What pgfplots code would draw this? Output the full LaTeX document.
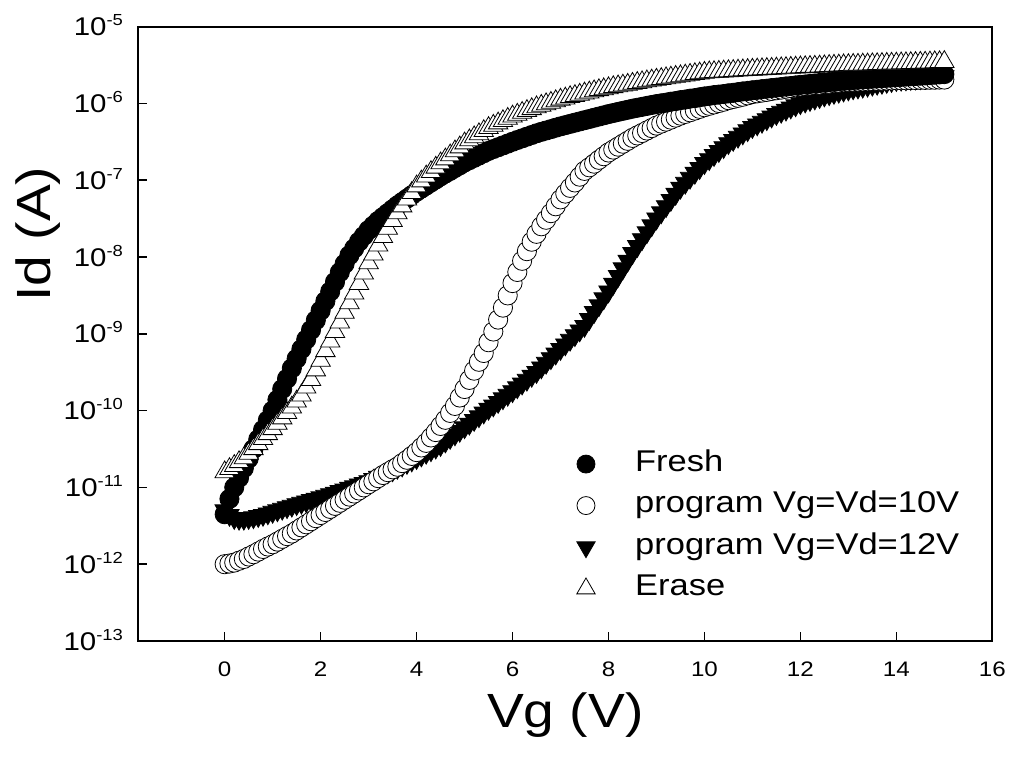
\documentclass[border=0pt]{standalone}
\usepackage{fontspec}
\setmainfont{Liberation Sans}[FakeStretch=1.15]
\usepackage{pgfplots}
\usepackage{pgfplotstable}
\pgfplotsset{compat=1.18}

% Id-Vg transfer curves: Vg (V), then Id (A) for each device state
\pgfplotstableread{
Vg   Fresh    Prog10   Prog12   Erase
0.0  4.47e-12 1.00e-12 5.01e-12 1.58e-11
0.1  7.08e-12 1.02e-12 4.37e-12 1.74e-11
0.2  1.00e-11 1.05e-12 3.98e-12 1.91e-11
0.3  1.33e-11 1.11e-12 3.89e-12 2.14e-11
0.4  1.78e-11 1.17e-12 3.89e-12 2.40e-11
0.5  2.37e-11 1.26e-12 3.98e-12 2.75e-11
0.6  3.16e-11 1.35e-12 4.07e-12 3.16e-11
0.7  4.22e-11 1.46e-12 4.22e-12 3.67e-11
0.8  5.62e-11 1.58e-12 4.37e-12 4.27e-11
0.9  7.50e-11 1.70e-12 4.57e-12 4.95e-11
1.0  1.00e-10 1.82e-12 4.79e-12 5.75e-11
1.1  1.38e-10 1.97e-12 5.01e-12 6.76e-11
1.2  1.91e-10 2.14e-12 5.25e-12 7.94e-11
1.3  2.60e-10 2.32e-12 5.50e-12 9.33e-11
1.4  3.55e-10 2.51e-12 5.75e-12 1.10e-10
1.5  4.73e-10 2.75e-12 6.03e-12 1.32e-10
1.6  6.31e-10 3.02e-12 6.28e-12 1.58e-10
1.7  8.41e-10 3.31e-12 6.55e-12 2.00e-10
1.8  1.12e-9  3.63e-12 6.82e-12 2.51e-10
1.9  1.50e-9  3.98e-12 7.11e-12 3.35e-10
2.0  2.00e-9  4.37e-12 7.41e-12 4.47e-10
2.1  2.66e-9  4.79e-12 7.76e-12 5.96e-10
2.2  3.55e-9  5.25e-12 8.13e-12 7.94e-10
2.3  4.73e-9  5.75e-12 8.51e-12 1.06e-9
2.4  6.31e-9  6.31e-12 8.91e-12 1.41e-9
2.5  8.13e-9  6.92e-12 9.33e-12 1.88e-9
2.6  1.05e-8  7.59e-12 9.82e-12 2.51e-9
2.7  1.29e-8  8.32e-12 1.03e-11 3.35e-9
2.8  1.58e-8  9.12e-12 1.09e-11 4.47e-9
2.9  1.88e-8  1.00e-11 1.14e-11 6.10e-9
3.0  2.24e-8  1.10e-11 1.20e-11 8.32e-9
3.1  2.57e-8  1.20e-11 1.28e-11 1.08e-8
3.2  2.95e-8  1.32e-11 1.37e-11 1.41e-8
3.3  3.31e-8  1.45e-11 1.46e-11 1.82e-8
3.4  3.72e-8  1.58e-11 1.56e-11 2.34e-8
3.5  4.17e-8  1.72e-11 1.66e-11 2.95e-8
3.6  4.68e-8  1.86e-11 1.79e-11 3.72e-8
3.7  5.19e-8  2.07e-11 1.92e-11 4.57e-8
3.8  5.75e-8  2.29e-11 2.07e-11 5.62e-8
3.9  6.38e-8  2.57e-11 2.23e-11 6.84e-8
4.0  7.08e-8  2.88e-11 2.40e-11 8.32e-8
4.1  7.76e-8  3.31e-11 2.59e-11 9.66e-8
4.2  8.51e-8  3.80e-11 2.81e-11 1.12e-7
4.3  9.33e-8  4.47e-11 3.03e-11 1.28e-7
4.4  1.02e-7  5.25e-11 3.28e-11 1.46e-7
4.5  1.12e-7  6.31e-11 3.55e-11 1.66e-7
4.6  1.22e-7  7.59e-11 3.94e-11 1.87e-7
4.7  1.32e-7  9.33e-11 4.39e-11 2.11e-7
4.8  1.44e-7  1.15e-10 4.88e-11 2.38e-7
4.9  1.56e-7  1.48e-10 5.42e-11 2.68e-7
5.0  1.70e-7  1.91e-10 6.03e-11 3.02e-7
5.1  1.82e-7  2.51e-10 6.73e-11 3.31e-7
5.2  1.95e-7  3.31e-10 7.52e-11 3.63e-7
5.3  2.09e-7  4.32e-10 8.39e-11 3.98e-7
5.4  2.24e-7  5.62e-10 9.38e-11 4.37e-7
5.5  2.40e-7  7.76e-10 1.05e-10 4.79e-7
5.6  2.54e-7  1.07e-9  1.16e-10 5.13e-7
5.7  2.68e-7  1.53e-9  1.29e-10 5.50e-7
5.8  2.83e-7  2.19e-9  1.44e-10 5.89e-7
5.9  2.99e-7  3.16e-9  1.60e-10 6.31e-7
6.0  3.16e-7  4.57e-9  1.78e-10 6.76e-7
6.1  3.33e-7  6.38e-9  2.00e-10 7.14e-7
6.2  3.50e-7  8.91e-9  2.24e-10 7.55e-7
6.3  3.68e-7  1.19e-8  2.51e-10 7.98e-7
6.4  3.87e-7  1.58e-8  2.82e-10 8.43e-7
6.5  4.07e-7  2.00e-8  3.16e-10 8.91e-7
6.6  4.25e-7  2.51e-8  3.63e-10 9.33e-7
6.7  4.43e-7  3.05e-8  4.17e-10 9.77e-7
6.8  4.61e-7  3.72e-8  4.79e-10 1.02e-6
6.9  4.81e-7  4.57e-8  5.50e-10 1.07e-6
7.0  5.01e-7  5.62e-8  6.31e-10 1.12e-6
7.1  5.20e-7  6.68e-8  7.24e-10 1.16e-6
7.2  5.40e-7  7.94e-8  8.32e-10 1.21e-6
7.3  5.60e-7  9.33e-8  9.55e-10 1.25e-6
7.4  5.81e-7  1.11e-7  1.10e-9  1.30e-6
7.5  6.03e-7  1.32e-7  1.26e-9  1.35e-6
7.6  6.25e-7  1.47e-7  1.55e-9  1.39e-6
7.7  6.49e-7  1.64e-7  1.91e-9  1.44e-6
7.8  6.73e-7  1.84e-7  2.34e-9  1.49e-6
7.9  6.98e-7  2.05e-7  2.88e-9  1.53e-6
8.0  7.24e-7  2.29e-7  3.55e-9  1.58e-6
8.1  7.48e-7  2.50e-7  4.47e-9  1.63e-6
8.2  7.73e-7  2.73e-7  5.62e-9  1.67e-6
8.3  7.98e-7  2.98e-7  7.08e-9  1.71e-6
8.4  8.24e-7  3.25e-7  8.91e-9  1.75e-6
8.5  8.51e-7  3.55e-7  1.12e-8  1.80e-6
8.6  8.75e-7  3.82e-7  1.38e-8  1.85e-6
8.7  8.99e-7  4.11e-7  1.70e-8  1.89e-6
8.8  9.25e-7  4.43e-7  2.09e-8  1.94e-6
8.9  9.51e-7  4.76e-7  2.57e-8  1.99e-6
9.0  9.77e-7  5.13e-7  3.16e-8  2.04e-6
9.1  1.00e-6  5.45e-7  3.80e-8  2.08e-6
9.2  1.02e-6  5.78e-7  4.57e-8  2.13e-6
9.3  1.05e-6  6.14e-7  5.50e-8  2.17e-6
9.4  1.07e-6  6.52e-7  6.61e-8  2.22e-6
9.5  1.10e-6  6.92e-7  7.94e-8  2.26e-6
9.6  1.12e-6  7.28e-7  9.20e-8  2.31e-6
9.7  1.15e-6  7.66e-7  1.07e-7  2.36e-6
9.8  1.17e-6  8.05e-7  1.24e-7  2.41e-6
9.9  1.20e-6  8.47e-7  1.43e-7  2.46e-6
10.0 1.23e-6  8.91e-7  1.66e-7  2.51e-6
10.1 1.25e-6  9.29e-7  1.87e-7  2.54e-6
10.2 1.28e-6  9.68e-7  2.11e-7  2.56e-6
10.3 1.30e-6  1.01e-6  2.38e-7  2.58e-6
10.4 1.32e-6  1.05e-6  2.68e-7  2.61e-6
10.5 1.35e-6  1.10e-6  3.02e-7  2.63e-6
10.6 1.37e-6  1.14e-6  3.33e-7  2.65e-6
10.7 1.40e-6  1.18e-6  3.66e-7  2.68e-6
10.8 1.43e-6  1.22e-6  4.04e-7  2.70e-6
10.9 1.45e-6  1.27e-6  4.45e-7  2.73e-6
11.0 1.48e-6  1.32e-6  4.90e-7  2.75e-6
11.1 1.50e-6  1.35e-6  5.30e-7  2.77e-6
11.2 1.53e-6  1.38e-6  5.73e-7  2.79e-6
11.3 1.55e-6  1.41e-6  6.19e-7  2.81e-6
11.4 1.58e-6  1.45e-6  6.70e-7  2.83e-6
11.5 1.60e-6  1.48e-6  7.24e-7  2.85e-6
11.6 1.63e-6  1.51e-6  7.73e-7  2.87e-6
11.7 1.66e-6  1.55e-6  8.24e-7  2.89e-6
11.8 1.68e-6  1.58e-6  8.79e-7  2.91e-6
11.9 1.71e-6  1.62e-6  9.38e-7  2.93e-6
12.0 1.74e-6  1.66e-6  1.00e-6  2.95e-6
12.1 1.76e-6  1.68e-6  1.05e-6  2.97e-6
12.2 1.79e-6  1.71e-6  1.10e-6  2.99e-6
12.3 1.81e-6  1.73e-6  1.15e-6  3.01e-6
12.4 1.84e-6  1.75e-6  1.20e-6  3.03e-6
12.5 1.86e-6  1.78e-6  1.26e-6  3.05e-6
12.6 1.89e-6  1.80e-6  1.31e-6  3.08e-6
12.7 1.91e-6  1.83e-6  1.36e-6  3.10e-6
12.8 1.94e-6  1.85e-6  1.41e-6  3.12e-6
12.9 1.97e-6  1.88e-6  1.46e-6  3.14e-6
13.0 2.00e-6  1.91e-6  1.51e-6  3.16e-6
13.1 2.01e-6  1.91e-6  1.56e-6  3.18e-6
13.2 2.03e-6  1.92e-6  1.60e-6  3.19e-6
13.3 2.05e-6  1.93e-6  1.64e-6  3.21e-6
13.4 2.07e-6  1.94e-6  1.69e-6  3.22e-6
13.5 2.09e-6  1.95e-6  1.74e-6  3.24e-6
13.6 2.11e-6  1.96e-6  1.79e-6  3.25e-6
13.7 2.13e-6  1.97e-6  1.84e-6  3.27e-6
13.8 2.15e-6  1.98e-6  1.89e-6  3.28e-6
13.9 2.17e-6  1.99e-6  1.94e-6  3.30e-6
14.0 2.19e-6  2.00e-6  2.00e-6  3.31e-6
14.1 2.21e-6  2.00e-6  2.02e-6  3.33e-6
14.2 2.23e-6  2.00e-6  2.04e-6  3.34e-6
14.3 2.25e-6  2.01e-6  2.07e-6  3.36e-6
14.4 2.27e-6  2.01e-6  2.09e-6  3.37e-6
14.5 2.29e-6  2.02e-6  2.11e-6  3.39e-6
14.6 2.31e-6  2.02e-6  2.14e-6  3.40e-6
14.7 2.33e-6  2.03e-6  2.16e-6  3.42e-6
14.8 2.36e-6  2.03e-6  2.19e-6  3.44e-6
14.9 2.38e-6  2.04e-6  2.21e-6  3.45e-6
15.0 2.40e-6  2.04e-6  2.24e-6  3.47e-6
}\idvg

\newcommand{\dec}[1]{10\raisebox{5pt}{\fontsize{8}{8}\selectfont #1}}

\begin{document}
\begin{tikzpicture}
\path[use as bounding box] (0,0) rectangle (505.5pt,378pt);
\begin{axis}[
  scale only axis,
  width=427pt, height=307.25pt,
  at={(69.15pt,57.5pt)}, anchor=south west,
  xmin=-1.8, xmax=16,
  ymode=log, ymin=1e-13, ymax=1e-5,
  axis line style={line width=1pt},
  tick pos=left, tick align=inside,
  major tick length=4.5pt,
  every tick/.style={black, line width=0.75pt},
  yminorticks=false,
  xtick={0,2,4,6,8,10,12,14,16},
  xticklabels={0,2,4,6,8,10,12,14,16},
  ytick={1e-13,1e-12,1e-11,1e-10,1e-9,1e-8,1e-7,1e-6,1e-5},
  yticklabels={\dec{-13},\dec{-12},\dec{-11},\dec{-10},\dec{-9},\dec{-8},\dec{-7},\dec{-6},\dec{-5}},
  xticklabel style={font=\fontsize{10.5}{10.5}\selectfont, anchor=base, inner sep=0pt, yshift=-17.5pt},
  yticklabel style={font=\fontsize{12.8}{12.8}\selectfont, anchor=base east, inner sep=0pt, xshift=-7.5pt, yshift=-4.6pt},
  xlabel={Vg (V)},
  ylabel={Id (A)},
  xlabel style={font=\fontsize{24}{24}\selectfont, at={(axis description cs:0.5,-0.14)}, anchor=base, inner sep=0pt},
  ylabel style={font=\fontsize{24}{24}\selectfont, at={(axis description cs:-0.1034,0.662)}, anchor=base, inner sep=0pt},
  legend style={at={(axis description cs:0.513,0.313)}, anchor=north west,
    draw=none, fill=none, inner sep=0pt, column sep=20pt, row sep=5.75pt,
    font=\fontsize{15}{15}\selectfont,
    nodes={inner sep=0pt, text height=11pt, text depth=4pt}},
  legend cell align=left,
  legend image code/.code={\draw[#1] plot coordinates {(0pt,0pt)};},
  circ/.style={mark=*, mark size=4.8pt, mark options={line width=0.75pt, draw=black}},
  tri/.style={mark=triangle*, mark size=5.6pt, mark options={line width=0.75pt, draw=black}},
]
% legend entries in display order
\addlegendimage{only marks, circ, mark size=4.5pt, mark options={fill=black}}
\addlegendentry{Fresh}
\addlegendimage{only marks, circ, mark size=4.5pt, mark options={fill=white}}
\addlegendentry{program Vg=Vd=10V}
\addlegendimage{only marks, tri, mark size=5.3pt, mark options={fill=black, rotate=180}}
\addlegendentry{program Vg=Vd=12V}
\addlegendimage{only marks, tri, mark size=5.3pt, mark options={fill=white}}
\addlegendentry{Erase}

% data, drawn bottom layer first
\addplot[only marks, tri, mark options={fill=black, rotate=180}, forget plot] table[x=Vg, y=Prog12] {\idvg};
\addplot[only marks, circ, mark options={fill=white}, forget plot] table[x=Vg, y=Prog10] {\idvg};
\addplot[only marks, circ, mark options={fill=black}, forget plot] table[x=Vg, y=Fresh] {\idvg};
\addplot[only marks, tri, mark options={fill=white}, forget plot] table[x=Vg, y=Erase] {\idvg};
\end{axis}
\end{tikzpicture}
\end{document}
